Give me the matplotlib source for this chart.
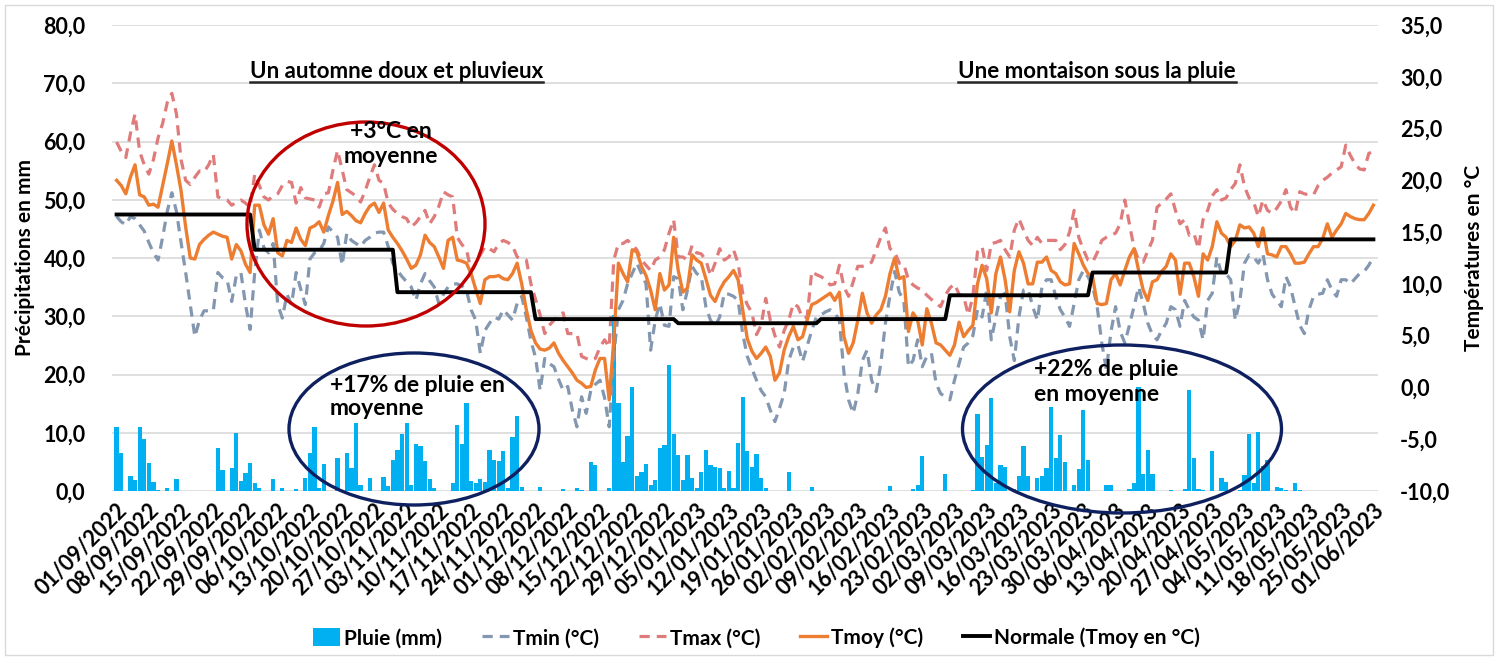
import numpy as np
import pandas as pd
import matplotlib
matplotlib.use("Agg")
import matplotlib.pyplot as plt
from matplotlib.patches import Ellipse, Rectangle
from matplotlib.lines import Line2D

plt.rcParams['font.family'] = ['Lato', 'DejaVu Sans']
plt.rcParams['font.weight'] = 'bold'

# one value per day, 01/09/2022 -> 01/06/2023
dates = pd.date_range('2022-09-01', '2023-06-01', freq='D')

pluie = [
    # sep
    11.0, 6.6, 0, 2.5, 1.9, 11.0, 9.0, 4.8, 1.6, 0.1, 0, 0.5, 0, 2.0, 0,
    0, 0, 0, 0, 0, 0, 0, 7.3, 3.6, 0, 3.9, 10.0, 1.8, 3.1, 4.8,
    # oct
    1.3, 0.5, 0, 0, 2.0, 0, 0.5, 0, 0, 0.3, 0, 2.3, 6.6, 11.0, 0.5, 4.6,
    0, 0, 5.6, 0, 6.6, 3.9, 11.6, 1.0, 0, 2.3, 0, 0, 2.4, 0.9, 5.4,
    # nov
    7.1, 9.7, 11.7, 1.1, 8.0, 7.7, 5.1, 2.1, 0.6, 0, 0, 0, 1.4, 11.4, 8.0,
    15.1, 1.8, 1.4, 2.1, 1.6, 7.1, 5.4, 5.1, 6.9, 0.6, 9.3, 12.8, 0.7, 0, 0,
    # dec
    0, 0.7, 0, 0, 0, 0, 0.3, 0, 0, 0.5, 0.2, 0, 4.9, 4.5, 0, 0, 0.5,
    30.2, 15.1, 5.0, 9.4, 17.9, 2.5, 3.3, 4.7, 1.0, 1.9, 7.3, 7.9, 21.6, 9.8,
    # jan
    6.2, 1.9, 6.2, 2.2, 0.6, 3.3, 7.0, 4.5, 4.1, 4.0, 0.5, 3.5, 0.5, 8.2, 16.2,
    6.8, 4.2, 6.3, 2.2, 0.5, 0, 0, 0, 0, 3.3, 0, 0, 0, 0, 0.7, 0,
    # feb
    0, 0, 0, 0, 0, 0, 0, 0, 0, 0, 0, 0, 0, 0, 0, 0.9, 0, 0, 0, 0,
    0.3, 1.0, 6.0, 0, 0, 0, 0, 3.0,
    # mar
    0, 0, 0, 0, 0, 0.2, 13.3, 5.9, 7.9, 15.9, 1.3, 4.5, 4.2, 0, 0.3, 2.5,
    7.7, 2.5, 0, 2.2, 2.5, 3.9, 14.5, 5.6, 9.6, 5.0, 0, 1.0, 3.7, 13.9, 5.4,
    # apr
    0, 0, 0, 1.1, 1.1, 0, 0, 0, 0.3, 1.3, 17.9, 3.0, 7.0, 3.0, 0, 0, 0,
    0.2, 0, 0, 0.4, 17.3, 5.6, 0.3, 0.2, 0, 6.9, 0, 2.2, 1.6,
    # may
    0, 0, 0.2, 2.7, 9.8, 1.3, 10.1, 4.3, 5.4, 0, 0.7, 0.5, 0.2, 0, 1.3, 0.2,
    0, 0, 0, 0, 0, 0, 0, 0, 0, 0, 0, 0, 0, 0, 0,
    # jun
    0,
]

tmin = [
    16.5, 16.0, 15.7, 16.5, 16.3, 15.7, 15.1, 14.0, 13.0, 12.3, 14.5, 17.0, 18.8, 17.0, 14.0,
    11.1, 8.0, 4.9, 6.5, 7.4, 7.4, 7.4, 11.1, 10.6, 10.4, 8.3, 10.8, 11.1, 8.0, 5.6,
    11.1, 15.2, 13.5, 13.0, 13.9, 8.0, 6.7, 9.0, 8.0, 11.1, 9.5, 8.0, 12.4, 13.0, 13.2, 13.9,
    15.5, 15.0, 14.5, 11.8, 14.9, 14.2, 13.9, 13.6, 14.2, 14.5, 14.9, 15.0, 15.0, 13.6, 12.0,
    11.3, 10.7, 10.2, 9.7, 8.4, 10.0, 11.0, 10.3, 9.7, 8.1, 9.0, 9.7, 10.0, 10.0, 9.8,
    9.4, 7.5, 6.5, 3.3, 5.5, 6.2, 6.8, 6.6, 7.5, 7.0, 6.5, 8.1, 8.8, 6.8, 4.5,
    2.9, -0.3, 2.8, 2.3, 2.0, 0.8, -0.3, 0.1, -2.2, -3.8, -0.9, -2.5, -0.3, 0.3, 0.7, -1.0,
    -3.8, 3.0, 7.5, 8.4, 10.0, 11.0, 12.0, 11.0, 10.0, 3.6, 6.5, 8.1, 6.0, 5.9, 10.7,
    10.5, 7.5, 9.4, 11.7, 11.0, 10.7, 7.8, 6.5, 5.9, 6.8, 9.1, 9.0, 8.8, 8.4, 5.2, 3.0,
    1.8, 0.7, -0.3, -0.9, -2.2, -3.3, -2.0, -0.6, 2.6, 3.9, 4.1, 2.5, 4.0, 5.5, 6.8,
    7.0, 7.3, 7.5, 7.2, 6.5, 1.4, -1.2, -2.5, -0.6, 2.6, 3.6, 0.7, -0.4, 2.3,
    6.2, 8.9, 11.2, 9.2, 8.4, 2.0, 2.6, 4.6, 2.0, 3.0, 3.3, 0.4, -0.6, -0.9,
    -1.2, 0.7, 2.3, 3.9, 4.3, 5.0, 7.5, 6.8, 9.4, 4.6, 6.8, 8.8, 9.1, 4.9, 2.6, 6.8,
    9.4, 9.5, 7.8, 6.5, 9.7, 10.4, 10.4, 8.8, 7.5, 6.8, 5.9, 8.1, 10.4, 11.3, 10.7,
    9.8, 7.8, 4.3, 1.7, 5.4, 7.8, 5.4, 4.3, 6.0, 7.8, 9.7, 8.1, 6.2, 5.1, 4.6,
    5.5, 6.2, 7.8, 7.5, 5.9, 8.4, 7.5, 6.8, 6.5, 4.6, 8.4, 9.1, 12.6, 11.0, 11.0,
    10.4, 6.5, 8.4, 12.0, 12.8, 12.6, 12.0, 12.9, 10.4, 9.0, 8.4, 7.8, 10.7, 9.7, 7.8, 6.0,
    5.2, 7.5, 8.8, 9.0, 9.1, 10.4, 9.4, 8.8, 10.4, 10.4, 10.0, 10.5, 11.0, 11.2, 11.8,
    12.6,
]

tmax = [
    23.7, 22.8, 22.2, 24.5, 26.4, 22.8, 21.5, 20.6, 22.0, 24.1, 25.5, 27.5, 28.4, 26.4, 22.0,
    20.0, 19.6, 20.3, 20.9, 20.8, 21.5, 22.5, 18.4, 18.2, 18.1, 17.6, 17.9, 18.1, 17.8, 17.4,
    20.6, 19.5, 18.4, 18.1, 18.5, 18.7, 19.5, 19.9, 19.8, 17.8, 19.3, 18.3, 18.2, 18.1, 17.4, 18.7,
    18.8, 21.0, 22.9, 21.0, 19.1, 18.8, 18.5, 17.9, 19.0, 20.3, 21.5, 20.0, 19.7, 17.8, 17.2,
    16.8, 16.5, 16.3, 15.5, 15.9, 16.5, 17.1, 15.8, 16.5, 17.5, 18.9, 18.6, 18.4, 14.5, 13.8,
    13.3, 11.3, 12.0, 12.8, 13.6, 13.4, 13.1, 13.9, 14.2, 14.0, 13.7, 12.6, 12.4, 12.3, 10.0,
    8.5, 7.0, 5.2, 6.0, 6.5, 7.0, 7.2, 5.2, 5.2, 5.2, 3.0, 2.8, 2.6, 2.8, 3.9, 4.6,
    3.9, 12.3, 13.9, 13.9, 14.2, 13.8, 13.3, 12.3, 11.8, 11.3, 12.3, 12.6, 13.3, 14.9, 16.2,
    12.6, 12.6, 12.3, 13.7, 13.0, 12.9, 12.3, 10.8, 12.0, 13.4, 12.3, 12.6, 13.3, 12.0, 9.1, 8.0,
    7.2, 5.1, 6.0, 8.6, 6.5, 5.0, 3.9, 5.5, 6.5, 8.1, 7.8, 6.7, 6.8, 11.2, 10.9,
    10.7, 10.4, 9.9, 10.0, 11.8, 9.7, 8.8, 10.2, 11.7, 11.7, 11.8, 12.1, 13.3, 14.5,
    15.4, 13.4, 13.1, 12.0, 11.9, 10.4, 9.9, 9.6, 9.4, 8.9, 8.5, 8.1, 7.8, 8.9,
    9.6, 10.0, 9.0, 8.8, 7.0, 8.8, 13.1, 13.6, 11.3, 13.9, 14.0, 14.2, 13.3, 12.6, 15.2, 16.3,
    15.2, 14.2, 13.7, 14.5, 13.9, 14.2, 14.2, 14.2, 13.3, 13.8, 15.0, 17.1, 14.5, 13.3, 12.3,
    12.1, 13.0, 14.2, 14.5, 14.7, 14.9, 15.8, 18.1, 15.8, 13.5, 12.3, 12.1, 13.2, 14.2, 17.4,
    17.8, 18.2, 18.7, 17.1, 15.8, 16.2, 14.7, 14.9, 13.4, 16.2, 17.1, 18.5, 19.1, 18.1, 18.3,
    19.1, 19.7, 21.5, 19.4, 18.3, 17.9, 16.5, 18.1, 17.1, 16.8, 17.3, 18.0, 19.1, 17.4, 16.8, 18.9,
    18.7, 18.6, 18.6, 19.5, 20.0, 20.3, 20.7, 21.0, 21.3, 23.4, 22.4, 21.6, 21.1, 21.0, 22.6,
    22.8,
]

tmoy = [
    20.0, 19.5, 18.7, 20.3, 21.5, 18.6, 18.4, 17.6, 17.7, 17.4, 19.5, 21.6, 23.8, 21.5, 19.0,
    15.5, 12.5, 12.4, 13.8, 14.3, 14.7, 15.0, 14.8, 14.6, 14.5, 12.4, 13.8, 13.2, 11.9, 11.1,
    17.6, 17.6, 15.7, 14.8, 16.3, 13.0, 12.7, 14.2, 14.0, 15.4, 14.3, 13.7, 15.4, 15.6, 16.0, 15.0,
    16.6, 18.0, 19.8, 16.7, 17.0, 16.6, 16.1, 15.9, 16.8, 17.5, 17.8, 16.9, 17.8, 15.2, 14.5,
    13.9, 13.2, 12.4, 11.5, 11.8, 12.8, 14.7, 14.0, 13.6, 12.6, 11.5, 14.2, 14.5, 12.3, 12.2,
    12.0, 11.0, 9.5, 8.1, 10.4, 10.7, 10.7, 10.8, 10.5, 10.4, 11.0, 12.0, 10.0, 7.5, 5.5,
    4.3, 3.7, 3.6, 3.8, 4.3, 3.3, 2.6, 2.0, 1.4, 0.7, 0.4, 0.0, 0.1, 1.7, 2.8, 2.8,
    -1.2, 4.6, 12.0, 11.0, 10.2, 13.3, 13.1, 11.7, 10.8, 9.4, 7.5, 11.0, 9.4, 9.9, 14.5,
    11.3, 9.2, 9.6, 12.8, 12.3, 12.0, 10.5, 8.9, 8.3, 9.4, 10.2, 10.7, 11.3, 10.4, 7.5, 4.7,
    3.5, 2.8, 3.3, 3.9, 3.0, 0.7, 1.4, 3.6, 4.9, 5.9, 4.6, 4.9, 6.5, 8.0, 8.2,
    8.5, 8.8, 9.1, 8.4, 9.2, 4.9, 3.3, 4.3, 6.5, 9.1, 7.2, 6.2, 7.0, 7.5,
    8.8, 11.0, 12.5, 10.5, 10.7, 5.4, 7.2, 6.5, 4.1, 7.6, 6.2, 4.3, 4.1, 3.6,
    3.1, 4.1, 6.3, 4.9, 5.5, 6.0, 10.0, 11.8, 10.5, 7.2, 11.0, 12.6, 10.4, 7.3, 11.3, 13.1,
    12.0, 10.0, 10.0, 12.1, 12.1, 12.6, 11.3, 11.0, 10.2, 9.9, 10.0, 13.9, 12.9, 11.8, 11.0,
    10.7, 8.1, 8.0, 8.1, 10.4, 11.0, 9.9, 11.3, 12.6, 13.4, 11.3, 9.4, 8.4, 10.2, 10.4,
    11.2, 11.7, 12.9, 12.3, 9.0, 12.0, 12.0, 10.7, 8.8, 12.9, 12.3, 13.6, 16.0, 14.9, 14.5,
    13.6, 14.2, 15.7, 15.4, 15.5, 14.9, 13.6, 15.4, 12.9, 12.8, 12.6, 13.6, 13.6, 12.9, 12.0, 12.0,
    12.1, 12.9, 13.6, 13.6, 14.4, 15.8, 14.5, 15.2, 15.8, 16.8, 16.5, 16.3, 16.2, 16.2, 16.8,
    17.6,
]

# monthly normal of the mean temperature, sep -> jun
normale_mois = [16.7, 13.3, 9.2, 6.6, 6.2, 6.6, 8.9, 11.1, 14.3, 14.3]
jours_mois = [30, 31, 30, 31, 31, 28, 31, 30, 31, 1]
normale = np.repeat(normale_mois, jours_mois)

W, H = 1498, 659
fig = plt.figure(figsize=(W / 100, H / 100), dpi=100)
ax = fig.add_axes([112 / W, 1 - 491 / H, 1266 / W, 466 / H])
ax2 = ax.twinx()

x = np.arange(len(dates))
ax.bar(x, pluie, width=0.92, color='#00B0F0', label='Pluie (mm)', zorder=2)
ax.set_ylim(0, 80)
ax.set_yticks(np.arange(0, 81, 10))
ax.set_yticklabels([f"{v:.1f}".replace('.', ',') for v in np.arange(0, 81, 10)])
ax.grid(axis='y', color='#D9D9D9', lw=1.2, zorder=0)
ax.set_axisbelow(True)
ax.set_xlim(-1, len(dates))

ticks = x[::7]
ax.set_xticks(ticks)
ax.set_xticklabels([dates[i].strftime('%d/%m/%Y') for i in ticks], rotation=45,
                   ha='right', rotation_mode='anchor', fontsize=15.5)

dash = (0, (3.2, 2.2))
ax2.plot(x, tmin, color='#8497B0', lw=2.3, ls=dash, label='Tmin (°C)', zorder=3)
ax2.plot(x, tmax, color='#E07B7B', lw=2.3, ls=dash, label='Tmax (°C)', zorder=3)
ax2.plot(x, tmoy, color='#ED7D31', lw=2.4, label='Tmoy (°C)', zorder=4)
ax2.plot(x, normale, color='black', lw=2.8, label='Normale (Tmoy en °C)', zorder=5)
ax2.set_ylim(-10, 35)
ax2.set_yticks(np.arange(-10, 36, 5))
ax2.set_yticklabels([f"{v:.1f}".replace('.', ',') for v in np.arange(-10, 36, 5)])

for a in (ax, ax2):
    for s in a.spines.values():
        s.set_visible(False)
ax.tick_params(axis='y', length=0, pad=19, labelsize=15.5)
ax.tick_params(axis='x', length=0, pad=6)
ax2.tick_params(axis='y', length=0, pad=16, labelsize=15.5)

ax.set_ylabel('Précipitations en mm', fontsize=15, fontweight='bold', labelpad=6)
ax2.set_ylabel('Températures en °C', fontsize=15, fontweight='bold', labelpad=10)

h1, l1 = ax.get_legend_handles_labels()
h2, l2 = ax2.get_legend_handles_labels()
fig.legend(h1 + h2, l1 + l2, loc='center', bbox_to_anchor=(0.505, 1 - 638 / H), ncol=5,
           frameon=False, fontsize=15, handlelength=1.3, handletextpad=0.2,
           columnspacing=1.9, handleheight=0.9)

# annotations
red = '#C00000'
navy = '#0E2060'
def fx(px):
    return px / W
def fy(py):
    return 1 - py / H

fig.add_artist(Ellipse((fx(366), fy(224)), 238 / W, 204 / H, transform=fig.transFigure,
                       fill=False, ec=red, lw=2.4, zorder=10))
fig.add_artist(Ellipse((fx(414), fy(429)), 250 / W, 152 / H, transform=fig.transFigure,
                       fill=False, ec=navy, lw=2.4, zorder=10))
fig.add_artist(Ellipse((fx(1122), fy(429)), 319 / W, 168 / H, transform=fig.transFigure,
                       fill=False, ec=navy, lw=2.4, zorder=10))

fig.text(fx(391), fy(144), '+3°C en\nmoyenne', ha='center', va='center', fontsize=16.5,
         linespacing=1.2, zorder=11)
fig.text(fx(330), fy(397), '+17% de pluie en\nmoyenne', ha='left', va='center', fontsize=16.5,
         linespacing=1.15, zorder=11)
fig.text(fx(1034), fy(382), '+22% de pluie\nen moyenne', ha='left', va='center', fontsize=16.5,
         linespacing=1.2, zorder=11)

titres = [
    fig.text(fx(250), fy(72), 'Un automne doux et pluvieux', ha='left', va='center', fontsize=16),
    fig.text(fx(958), fy(72), 'Une montaison sous la pluie', ha='left', va='center', fontsize=16),
]
r = fig.canvas.get_renderer()
for t in titres:
    bb = t.get_window_extent(renderer=r).transformed(fig.transFigure.inverted())
    fig.add_artist(Line2D([bb.x0, bb.x1], [bb.y0 + 0.001, bb.y0 + 0.001],
                          transform=fig.transFigure, color='#262626', lw=1.8))

fig.add_artist(Rectangle((5 / W, 4 / H), 1 - 10 / W, 1 - 9 / H, transform=fig.transFigure,
                         fill=False, ec='#D9D9D9', lw=1))

fig.savefig('out.png', dpi=100)
